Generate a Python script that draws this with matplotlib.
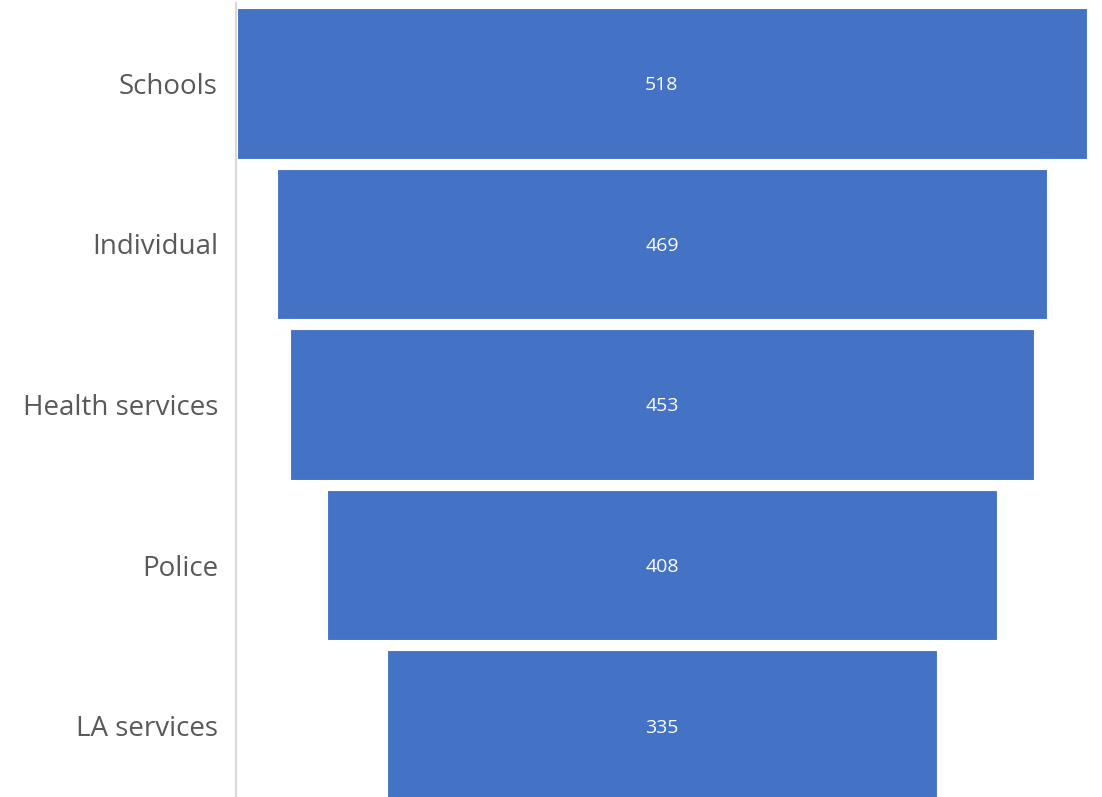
import matplotlib
matplotlib.use("Agg")
import matplotlib.pyplot as plt

categories = ["Schools", "Individual", "Health services", "Police", "LA services"]
values = [518, 469, 453, 408, 335]

W, H = 1102, 797
fig = plt.figure(figsize=(W / 100, H / 100), dpi=100)
ax = fig.add_axes([236 / W, 0, (W - 236) / W, 794 / H])

centers = list(range(len(categories)))
lefts = [-v / 2 for v in values]
ax.barh(centers, values, left=lefts, height=0.9375, color="#4472C4",
        edgecolor="white", linewidth=0.8)

for c, v in zip(centers, values):
    ax.text(0, c + 0.012, str(v), ha="center", va="center", color="white",
            fontsize=14, family="Open Sans")

maxv = max(values)
ax.set_xlim(-maxv / 2 - 0.5, (W - 662) / (850 / maxv))
ax.set_ylim((794 - 83) / 160, -80 / 160)
ax.set_yticks(centers)
ax.set_yticklabels(categories, fontsize=20, color="#595959", family="Open Sans")
ax.tick_params(axis="y", length=0, pad=13)
ax.set_xticks([])
for s in ["top", "right", "bottom"]:
    ax.spines[s].set_visible(False)
ax.spines["left"].set_color("#D9D9D9")
ax.spines["left"].set_linewidth(1.5)

fig.savefig("out.png", dpi=100)
